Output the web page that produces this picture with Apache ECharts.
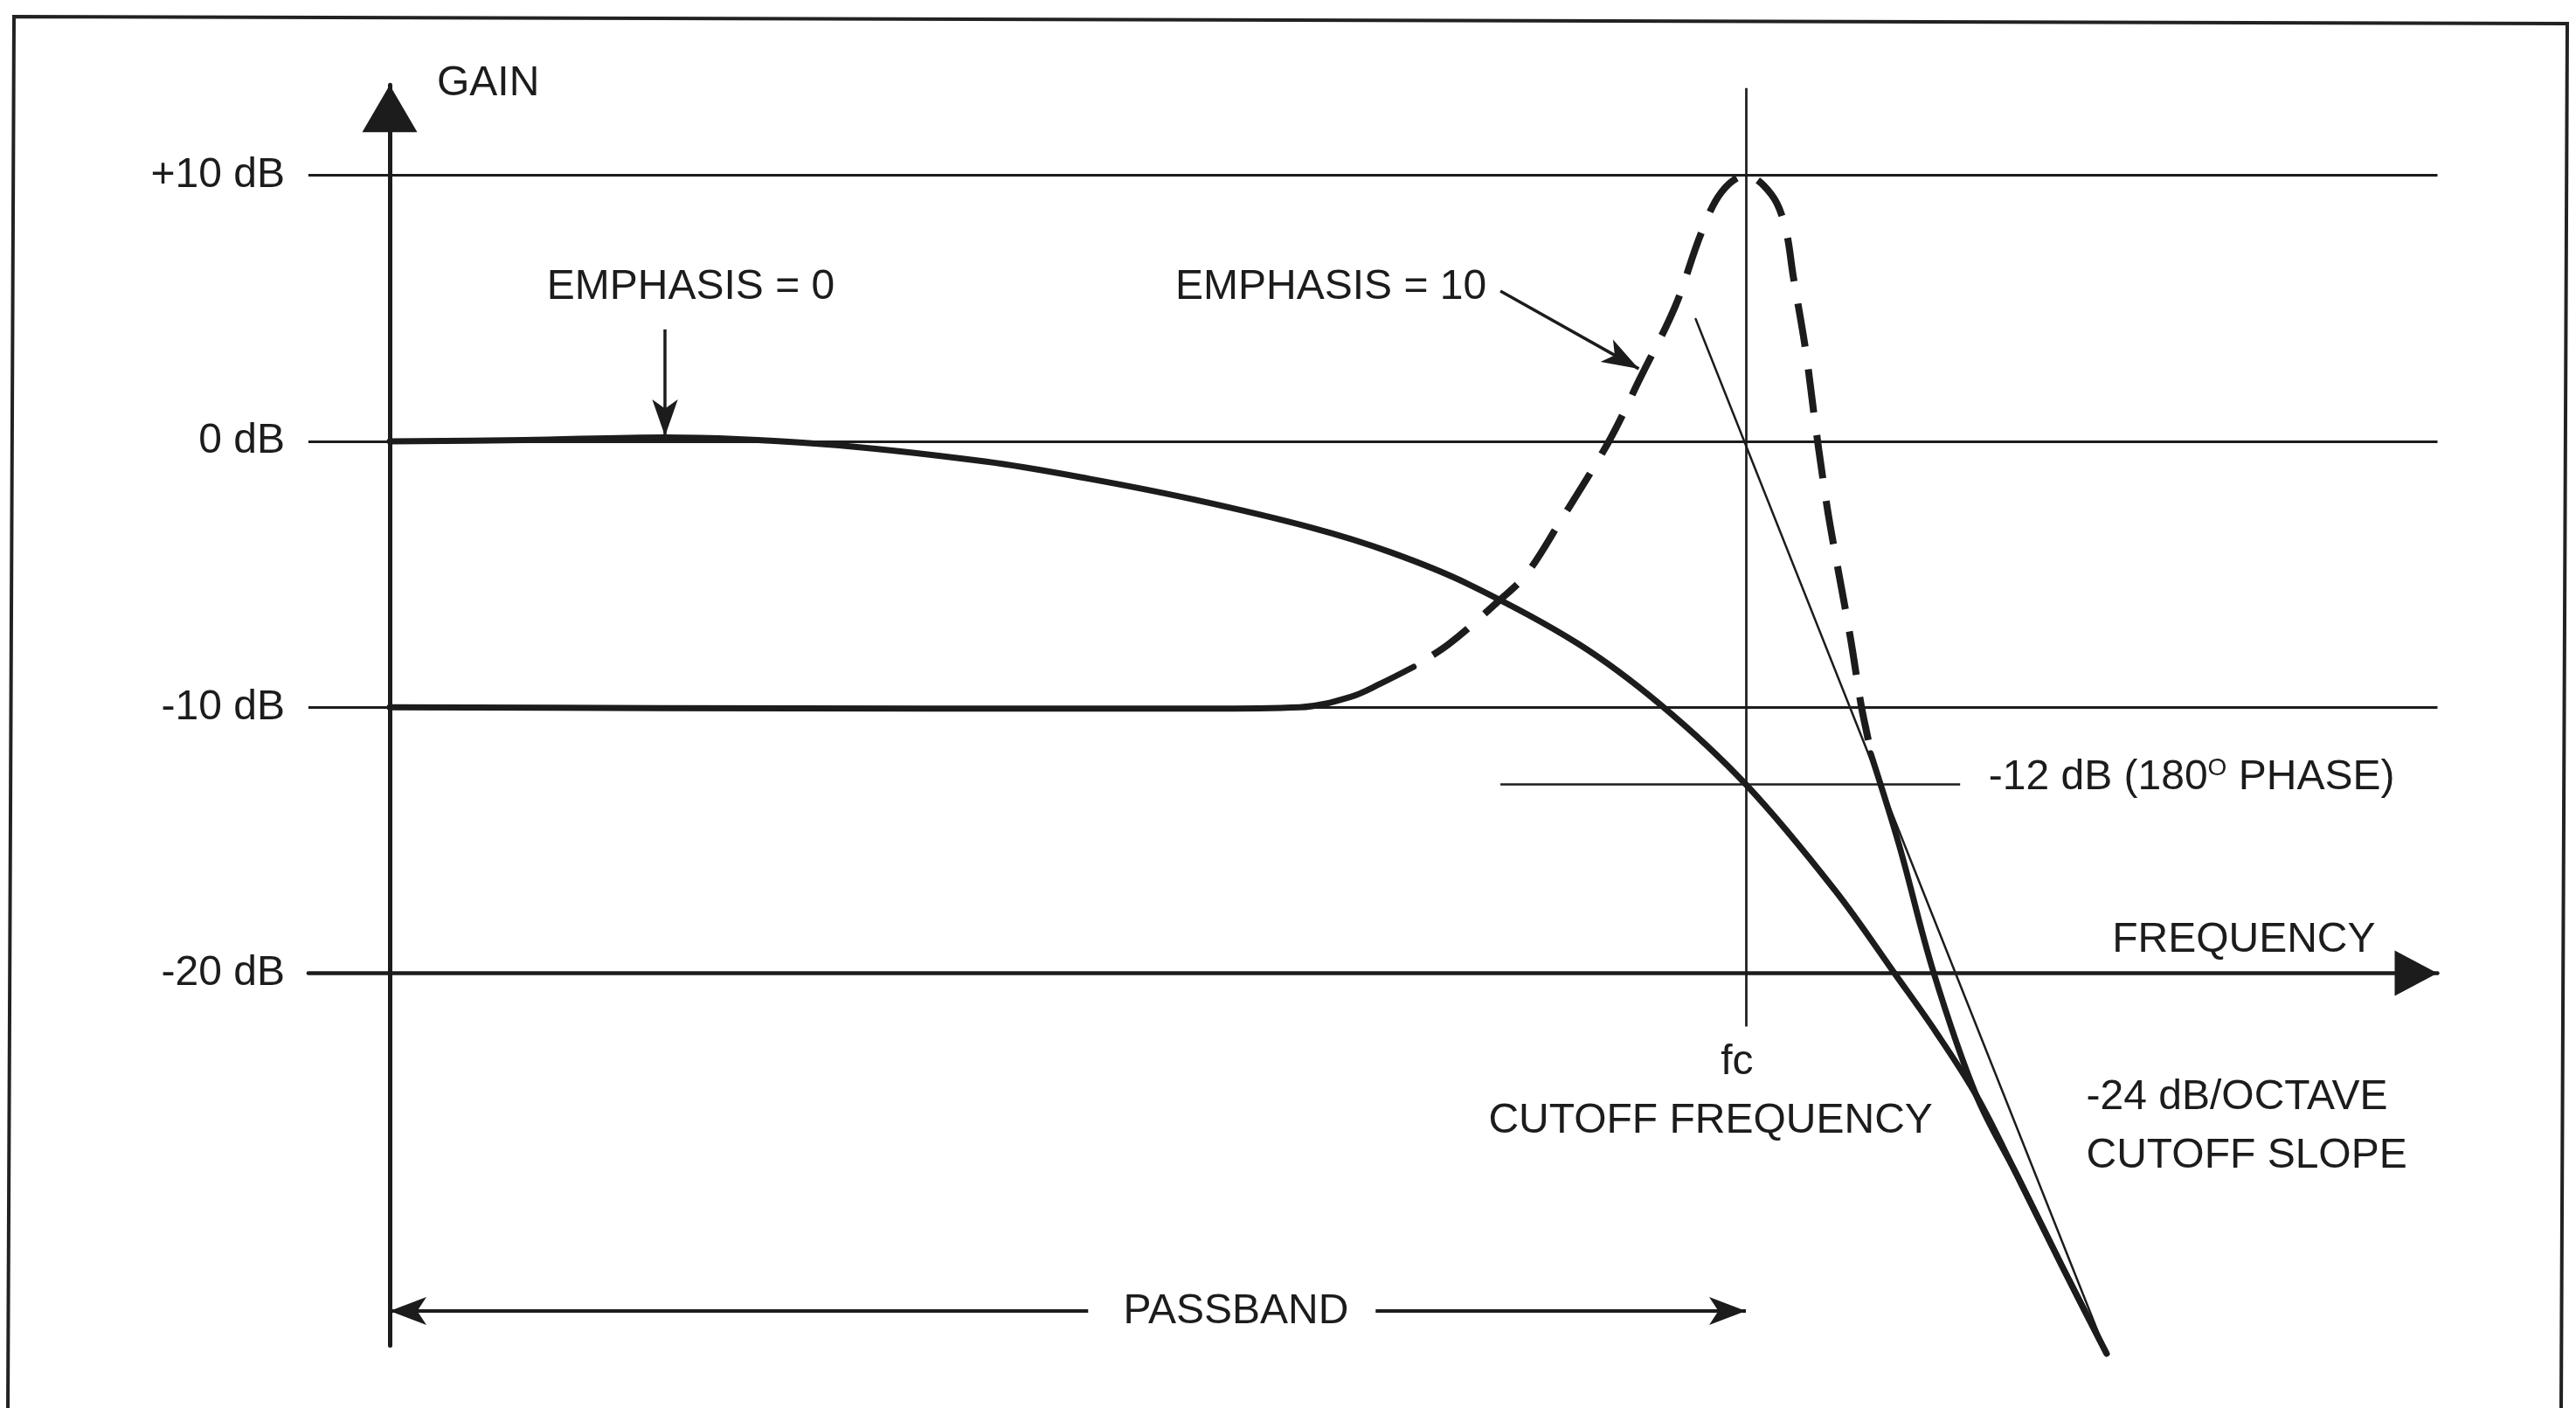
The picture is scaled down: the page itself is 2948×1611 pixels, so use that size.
<!DOCTYPE html>
<html>
<head>
<meta charset="utf-8">
<script src="https://cdn.jsdelivr.net/npm/echarts@6/dist/echarts.min.js"></script>
<style>
html,body{margin:0;padding:0;background:#ffffff;}
#chart{width:2948px;height:1611px;}
</style>
</head>
<body>
<div id="chart"></div>
<script>
// ---- DATA (x: normalised frequency, 0 = gain axis, 100 = fc; y: gain in dB) ----
const gainTickValues = [10, 0, -10, -20];
const gainTickLabels = ['+10 dB', '0 dB', '-10 dB', '-20 dB'];
const gridLineValues = [10, 0, -10];
const frequencyAxisDb = -20;
const cutoffFreq = 100;

// EMPHASIS = 0 response
const emphasis0 = [
  [0, 0], [9.9, 0.05], [20.3, 0.15], [31.8, -0.1], [43.9, -0.76], [51.6, -1.41], [59.4, -2.2],
  [68.0, -3.25], [73.8, -4.17], [79.5, -5.36], [87.6, -7.6], [93.7, -9.9], [100, -12.9],
  [106.6, -16.9], [111.1, -20.1], [114.0, -22.2], [117.0, -24.6], [120.0, -27.6], [123.3, -31.0], [126.6, -34.3]
];
// EMPHASIS = 10 response: flat part, dashed resonance peak, roll-off
const emphasis10Low = [
  [0, -10], [20, -10.03], [40, -10.05], [60, -10.05], [67.1, -10], [70.9, -9.6], [73.1, -9.1], [75.5, -8.48]
];
const emphasis10Peak = [
  [75.5, -8.48], [78.1, -7.62], [81.6, -6.08], [83.8, -5.0], [86.3, -3.02], [89.9, 0], [92.2, 2.37],
  [94.8, 5.09], [96.7, 7.82], [98.2, 9.37], [100, 10], [101.9, 9.27], [102.9, 8.05], [103.5, 6.18],
  [104.4, 3.45], [105.1, 0.72], [105.7, -1.48], [106.2, -3.12], [107.7, -7.36], [108.5, -9.92],
  [109.0, -11.17], [109.2, -11.73]
];
const emphasis10Rolloff = [
  [109.2, -11.73], [111.3, -15.18], [113.85, -19.98], [117.0, -24.6], [120.0, -27.6], [123.3, -31.0], [126.6, -34.3]
];
// -24 dB/octave asymptote through fc
const asymptote24 = [[96.3, 4.6], [126.6, -34.3]];

// Annotation geometry (data units)
const phaseDb = -12.9;
const phaseLineRange = [81.9, 115.8];
const fcSegments = [[13.28, -22.0], [-26.8, -34.3]];
const passbandDb = -32.7;
const passbandSegments = [[0, 51.5], [72.7, 100]];
const emphasis0Pointer = [[20.3, 4.21], [20.3, 0.2]];
const emphasis10Pointer = [[81.9, 5.65], [92.1, 2.73]];

const annotationTexts = ['EMPHASIS = 0', 'EMPHASIS = 10', 'fc', 'CUTOFF FREQUENCY', '-24 dB/OCTAVE', 'CUTOFF SLOPE', 'PASSBAND'];
const annotationAnchors = [[22.2, 5.78], [69.4, 5.78], [99.35, -23.36], [97.4, -25.57], [125.1, -24.68], [125.1, -26.88], [62.4, -32.73]];
const annotationAlign = ['center', 'center', 'center', 'center', 'left', 'left', 'center'];
const phaseLabelParts = ['-12 dB (180', 'O', ' PHASE)'];
const phaseLabelAnchor = [117.9, -12.64];

// ---- STYLE / LAYOUT ----
const FONT = "'Liberation Sans', Arial, Helvetica, sans-serif";
const INK = '#1c1c1c';
const FS = 48;
const W = 2948, H = 1611;
const gridTop = 97.2, gridBottom = 71.4, gridLeft = 352.9, gridRight = 158.5;
const yMin = -34, yMax = 13.4, xMin = -6, xMax = 151;
const pxPerDb = (H - gridTop - gridBottom) / (yMax - yMin);
const xAxisOffset = -(frequencyAxisDb - yMin) * pxPerDb;

const chart = echarts.init(document.getElementById('chart'), null, {renderer: 'canvas', width: W, height: H});

function curve(name, data, style, smooth) {
  return {
    type: 'line', name: name, data: data, symbol: 'none', showSymbol: false,
    smooth: smooth === undefined ? 0.35 : smooth, clip: false, silent: true, z: 4,
    lineStyle: Object.assign({color: INK, width: 7, type: 'solid', cap: 'round', join: 'round'}, style),
    emphasis: {disabled: true}
  };
}

const thin = {color: INK, width: 2.7, type: 'solid'};
const markLines = [];
gridLineValues.forEach(function (v) { markLines.push({yAxis: v, lineStyle: {color: INK, width: 3.2, type: 'solid'}}); });
fcSegments.forEach(function (s) {
  markLines.push([{coord: [cutoffFreq, s[0]], lineStyle: thin}, {coord: [cutoffFreq, s[1]], lineStyle: thin}]);
});
markLines.push([{coord: [phaseLineRange[0], phaseDb], lineStyle: thin}, {coord: [phaseLineRange[1], phaseDb], lineStyle: thin}]);
const pbStyle = {color: INK, width: 4, type: 'solid'};
markLines.push([
  {coord: [passbandSegments[0][0], passbandDb], symbol: 'arrow', symbolSize: [24, 42], lineStyle: pbStyle},
  {coord: [passbandSegments[0][1], passbandDb], symbol: 'none', lineStyle: pbStyle}
]);
markLines.push([
  {coord: [passbandSegments[1][0], passbandDb], symbol: 'none', lineStyle: pbStyle},
  {coord: [passbandSegments[1][1], passbandDb], symbol: 'arrow', symbolSize: [24, 42], lineStyle: pbStyle}
]);
const ptrStyle = {color: INK, width: 3.5, type: 'solid'};
[emphasis0Pointer, emphasis10Pointer].forEach(function (p) {
  markLines.push([
    {coord: p[0], symbol: 'none', lineStyle: ptrStyle},
    {coord: p[1], symbol: 'arrow', symbolSize: [22, 42], lineStyle: ptrStyle}
  ]);
});

const markPoints = annotationTexts.map(function (t, i) {
  return {coord: annotationAnchors[i], value: t, label: {formatter: t, align: annotationAlign[i]}};
});
markPoints.push({
  coord: phaseLabelAnchor, value: phaseLabelParts.join(''),
  label: {
    align: 'left',
    formatter: '{t|' + phaseLabelParts[0] + '}{s|' + phaseLabelParts[1] + '}{t|' + phaseLabelParts[2] + '}',
    rich: {
      t: {fontSize: FS, lineHeight: FS, color: INK, fontFamily: FONT, verticalAlign: 'middle'},
      s: {fontSize: 28, lineHeight: 28, color: INK, fontFamily: FONT, verticalAlign: 'top'}
    }
  }
});

const option = {
  backgroundColor: '#ffffff',
  animation: false,
  textStyle: {fontFamily: FONT, color: INK},
  graphic: [{
    type: 'polyline', silent: true, z: -10,
    shape: {points: [[9, 1611], [16, 19], [2938, 27], [2931, 1611]]},
    style: {stroke: '#222', lineWidth: 4, fill: null}
  }],
  grid: {left: gridLeft, right: gridRight, top: gridTop, bottom: gridBottom, containLabel: false, outerBoundsMode: 'none'},
  xAxis: {
    type: 'value', min: xMin, max: xMax, position: 'bottom', offset: xAxisOffset,
    axisLine: {show: true, onZero: false, lineStyle: {color: INK, width: 4.5},
      symbol: ['none', 'triangle'], symbolSize: [52, 49], symbolOffset: [0, -24.5]},
    axisTick: {show: false}, axisLabel: {show: false}, splitLine: {show: false},
    name: 'FREQUENCY', nameLocation: 'end', nameGap: -71, nameMoveOverlap: false,
    nameTextStyle: {fontSize: FS, color: INK, fontFamily: FONT, align: 'right', verticalAlign: 'bottom', padding: [0, 0, 14, 0]}
  },
  yAxis: {
    type: 'value', min: yMin, max: yMax,
    axisLine: {show: true, onZero: true, lineStyle: {color: INK, width: 5},
      symbol: ['none', 'triangle'], symbolSize: [63, 54], symbolOffset: [0, -27]},
    axisTick: {show: false}, splitLine: {show: false},
    axisLabel: {
      show: true, customValues: gainTickValues, margin: 27, color: INK, fontSize: FS, fontFamily: FONT,
      formatter: function (v) { const i = gainTickValues.indexOf(v); return i >= 0 ? gainTickLabels[i] : ''; }
    },
    name: 'GAIN', nameLocation: 'end', nameGap: 1, nameMoveOverlap: false,
    nameTextStyle: {fontSize: FS, color: INK, fontFamily: FONT, align: 'left', verticalAlign: 'middle', padding: [0, 0, 0, 54]}
  },
  series: [
    curve('EMPHASIS = 0', emphasis0, {width: 7}),
    curve('EMPHASIS = 10', emphasis10Low, {width: 7}),
    curve('EMPHASIS = 10 peak', emphasis10Peak, {width: 8, type: [50, 26], dashOffset: 50, cap: 'butt'}),
    curve('EMPHASIS = 10 roll-off', emphasis10Rolloff, {width: 7}),
    curve('-24 dB/OCTAVE asymptote', asymptote24, {width: 2.5}, false),
    {
      type: 'line', name: 'guides', data: [], clip: false, silent: true, z: 3,
      markLine: {
        silent: true, symbol: 'none', animation: false, precision: 4,
        label: {show: false}, emphasis: {disabled: true},
        lineStyle: {color: INK, width: 3, type: 'solid'},
        data: markLines
      },
      markPoint: {
        silent: true, symbol: 'circle', symbolSize: 1, animation: false,
        itemStyle: {color: 'rgba(0,0,0,0)'},
        label: {show: true, position: 'inside', color: INK, fontSize: FS, fontFamily: FONT, verticalAlign: 'middle'},
        emphasis: {disabled: true},
        data: markPoints
      }
    }
  ]
};
chart.setOption(option);
</script>
</body>
</html>
